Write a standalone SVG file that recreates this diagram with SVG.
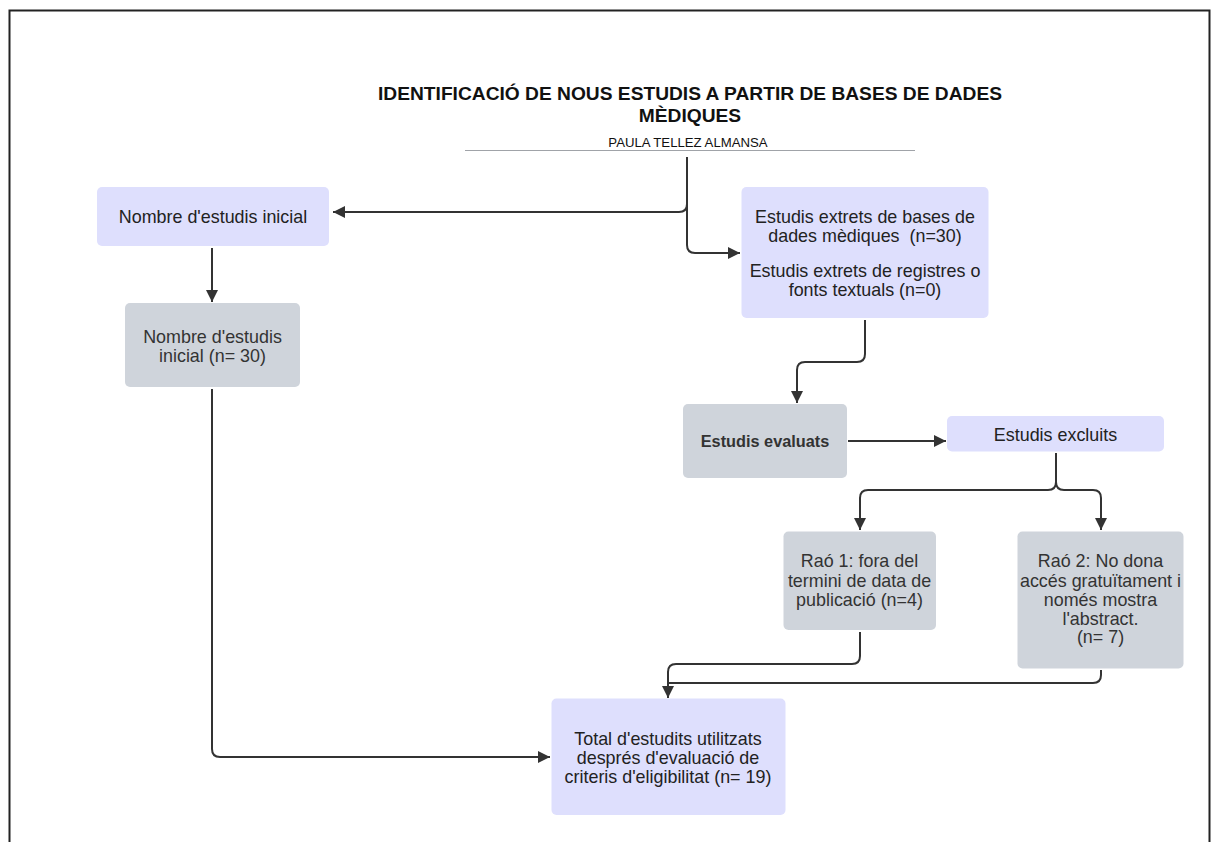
<svg xmlns="http://www.w3.org/2000/svg" width="1219" height="842" viewBox="0 0 1219 842">
<style>
.lav{fill:#dedffd}
.gry{fill:#cfd4db}
.t{font-family:"Liberation Sans",Arial,sans-serif;font-size:17.9px;fill:#222;text-anchor:middle}
.tg{fill:#333}
.b{font-weight:bold;font-size:16.3px}
.c{fill:none;stroke:#333;stroke-width:2}
.hd{font-family:"Liberation Sans",Arial,sans-serif;font-size:19.2px;font-weight:bold;fill:#111;text-anchor:middle}
</style>
<defs>
<marker id="ah" markerUnits="userSpaceOnUse" markerWidth="14" markerHeight="12" refX="12" refY="6" orient="auto">
<path d="M0,0 L12,6 L0,12 z" fill="#333"/>
</marker>
</defs>
<rect x="0" y="0" width="1219" height="842" fill="#fff"/>
<path d="M9.5,850 V10.5 H1209.5 V850" fill="none" stroke="#222" stroke-width="2"/>
<g id="title">
<text class="hd" x="690" y="99.5">IDENTIFICACIÓ DE NOUS ESTUDIS A PARTIR DE BASES DE DADES</text>
<text class="hd" x="690" y="121.5">MÈDIQUES</text>
<text x="688" y="146.5" style="font-family:'Liberation Sans',Arial,sans-serif;font-size:13.2px;fill:#111" text-anchor="middle">PAULA TELLEZ ALMANSA</text>
<line x1="465" y1="150.5" x2="915" y2="150.5" stroke="#a0a3a8" stroke-width="1.2"/>
</g>
<g id="connectors">
<path class="c" d="M687,157 V204 Q687,212 679,212 H333" marker-end="url(#ah)"/>
<path class="c" d="M687,157 V245 Q687,253 695,253 H740" marker-end="url(#ah)"/>
<path class="c" d="M865,320 V354 Q865,362 857,362 H805 Q797,362 797,370 V403" marker-end="url(#ah)"/>
<path class="c" d="M848,441 H946" marker-end="url(#ah)"/>
<path class="c" d="M1056,453 V482 Q1056,490 1048,490 H868 Q860,490 860,498 V530" marker-end="url(#ah)"/>
<path class="c" d="M1056,453 V482 Q1056,490 1064,490 H1093 Q1101,490 1101,498 V530" marker-end="url(#ah)"/>
<path class="c" d="M860,632 V656 Q860,664 852,664 H676 Q668,664 668,672 V698" marker-end="url(#ah)"/>
<path class="c" d="M1101,670 V675 Q1101,683 1093,683 H668"/>
<path class="c" d="M212,248 V302" marker-end="url(#ah)"/>
<path class="c" d="M212,389 V749 Q212,757 220,757 H550" marker-end="url(#ah)"/>
</g>
<g id="n-inicial">
<rect class="lav" x="97" y="187" width="232" height="59" rx="5"/>
<text class="t" x="213" y="223">Nombre d'estudis inicial</text>
</g>
<g id="n-inicial30">
<rect class="gry" x="125" y="303" width="175" height="84" rx="5"/>
<text class="t tg" x="212.5" y="342.5">Nombre d'estudis</text>
<text class="t tg" x="212.5" y="362">inicial (n= 30)</text>
</g>
<g id="n-extrets">
<rect class="lav" x="741.5" y="187" width="247" height="131" rx="5"/>
<text class="t" x="865" y="223">Estudis extrets de bases de</text>
<text class="t" x="865" y="241.5" style="white-space:pre">dades mèdiques  (n=30)</text>
<text class="t" x="865" y="277">Estudis extrets de registres o</text>
<text class="t" x="865" y="295.5">fonts textuals (n=0)</text>
</g>
<g id="n-evaluats">
<rect class="gry" x="683" y="404" width="164" height="74" rx="5"/>
<text class="t tg b" x="765" y="446.5">Estudis evaluats</text>
</g>
<g id="n-excluits">
<rect class="lav" x="947" y="416" width="217" height="35.5" rx="5"/>
<text class="t" x="1055.5" y="440.5">Estudis excluits</text>
</g>
<g id="n-rao1">
<rect class="gry" x="783.5" y="531.5" width="152.5" height="98.5" rx="5"/>
<text class="t tg" x="859.5" y="567">Raó 1: fora del</text>
<text class="t tg" x="859.5" y="586.5">termini de data de</text>
<text class="t tg" x="859.5" y="605.5">publicació (n=4)</text>
</g>
<g id="n-rao2">
<rect class="gry" x="1017.5" y="531.5" width="166" height="137" rx="5"/>
<text class="t tg" x="1100.5" y="567">Raó 2: No dona</text>
<text class="t tg" x="1100.5" y="586.5">accés gratuïtament i</text>
<text class="t tg" x="1100.5" y="605.5">només mostra</text>
<text class="t tg" x="1100.5" y="624.5">l'abstract.</text>
<text class="t tg" x="1100.5" y="643">(n= 7)</text>
</g>
<g id="n-total">
<rect class="lav" x="551.5" y="698.5" width="234" height="116.5" rx="5"/>
<text class="t" x="668" y="744.5">Total d'estudits utilitzats</text>
<text class="t" x="668" y="763.5">després d'evaluació de</text>
<text class="t" x="668" y="782.5">criteris d'eligibilitat (n= 19)</text>
</g>
</svg>
